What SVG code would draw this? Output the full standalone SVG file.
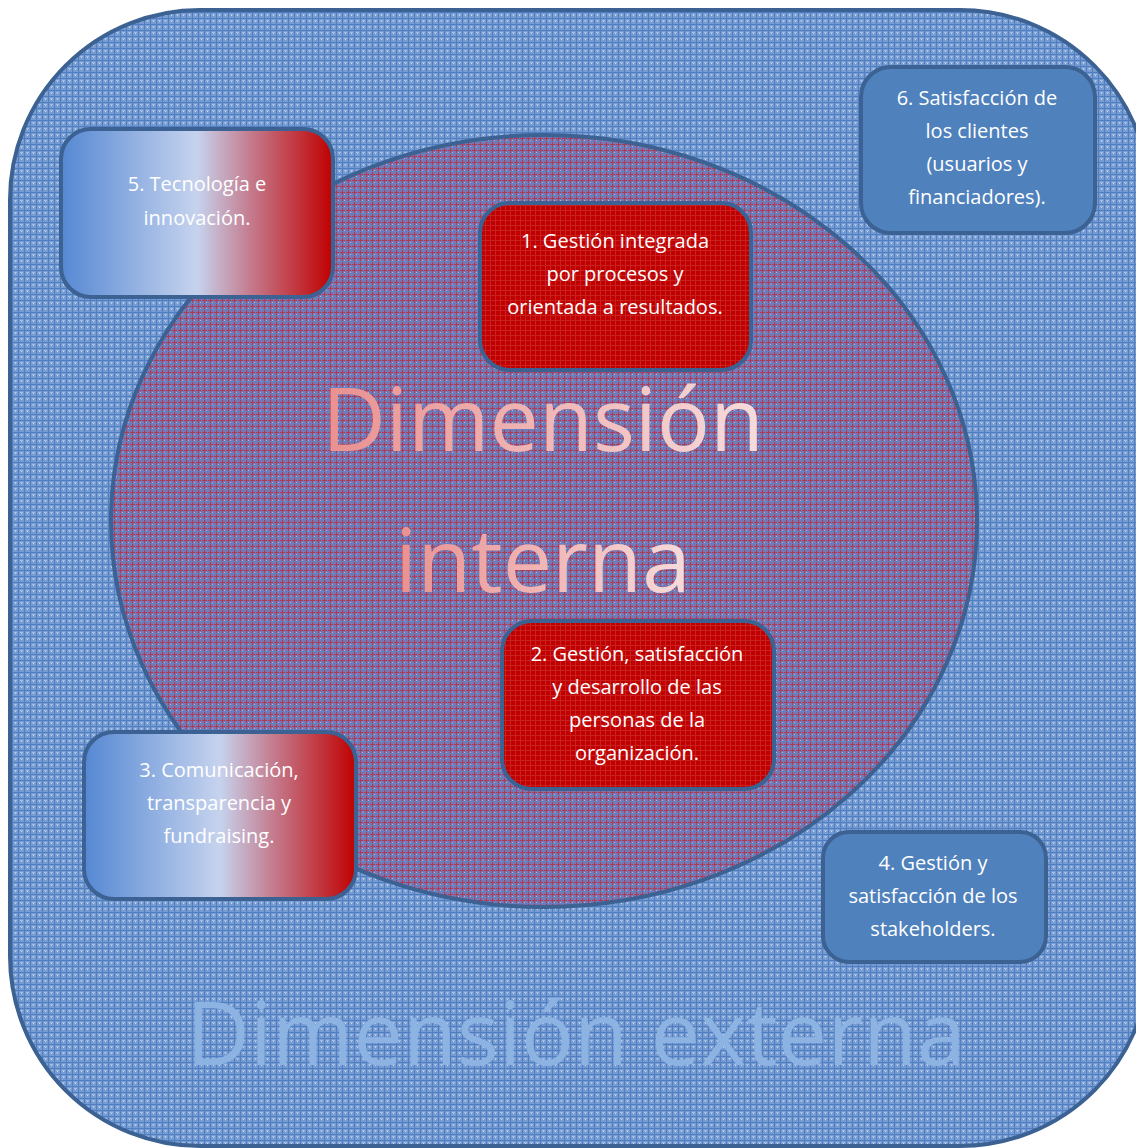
<svg xmlns="http://www.w3.org/2000/svg" width="1136" height="1148" viewBox="0 0 1136 1148">
<defs>
<pattern id="pOuter" width="6" height="6" patternUnits="userSpaceOnUse">
<rect width="6" height="6" fill="#769cd2"/>
<rect x="0" y="0" width="6" height="1" fill="#4f7fc2"/>
<rect x="0" y="0" width="1" height="6" fill="#4f7fc2"/>
<rect x="3" y="3" width="1" height="1" fill="#c4d5ee"/>
<rect x="2" y="2" width="3" height="1" fill="#a0bae1"/>
</pattern>
<pattern id="pInner" width="6" height="6" patternUnits="userSpaceOnUse">
<rect width="6" height="6" fill="#7d76ac"/>
<rect x="0" y="0" width="6" height="1" fill="#b03a58"/>
<rect x="0" y="0" width="1" height="6" fill="#b03a58"/>
<rect x="3" y="0" width="1" height="6" fill="#6580c0"/>
<rect x="0" y="3" width="6" height="1" fill="#6580c0"/>
<rect x="2" y="2" width="1" height="1" fill="#c0b0cc"/>
</pattern>
<pattern id="pRed" width="5" height="5" patternUnits="userSpaceOnUse">
<rect width="5" height="5" fill="#c00000"/>
<rect x="0" y="0" width="5" height="1" fill="#c92020"/>
<rect x="0" y="0" width="1" height="5" fill="#c92020"/>
</pattern>
<linearGradient id="gBR" x1="0" y1="0" x2="1" y2="0">
<stop offset="0" stop-color="#5588d3"/>
<stop offset="0.5" stop-color="#c6d3ee"/>
<stop offset="0.7" stop-color="#c47a8c"/>
<stop offset="1" stop-color="#c00000"/>
</linearGradient>
<linearGradient id="gTxt" x1="0" y1="0" x2="1" y2="0">
<stop offset="0" stop-color="#ea9090"/>
<stop offset="1" stop-color="#f6dcdc"/>
</linearGradient>
<style>
.bx{stroke:#3c6193;stroke-width:4}
.t{font-family:"Open Sans","Noto Sans",sans-serif;font-size:20px;fill:#ffffff;text-anchor:middle}
.big{font-family:"Open Sans","Noto Sans",sans-serif;font-size:88px;text-anchor:middle}
</style>
</defs>
<g id="outer">
<rect x="10" y="10" width="1140" height="1136" rx="190" ry="190" fill="url(#pOuter)" stroke="#3c6193" stroke-width="4"/>
<text class="big" x="576" y="1065" fill="#8db3e2">Dimensión externa</text>
</g>
<g id="inner">
<ellipse cx="544" cy="521" rx="433" ry="386" fill="url(#pInner)" stroke="#3c6193" stroke-width="4"/>
<text class="big" x="543" y="451" fill="url(#gTxt)">Dimensión</text>
<text class="big" x="543" y="592" fill="url(#gTxt)">interna</text>
</g>
<g id="connectors"></g>
<g id="n5">
<rect class="bx" x="61" y="129" width="272" height="168" rx="30" fill="url(#gBR)"/>
<text class="t" x="197" y="191">5. Tecnología e</text>
<text class="t" x="197" y="225">innovación.</text>
</g>
<g id="n1">
<rect class="bx" x="480" y="203" width="271" height="167" rx="30" fill="url(#pRed)"/>
<text class="t" x="615" y="248">1. Gestión integrada</text>
<text class="t" x="615" y="281">por procesos y</text>
<text class="t" x="615" y="314">orientada a resultados.</text>
</g>
<g id="n6">
<rect class="bx" x="861" y="67" width="234" height="166" rx="30" fill="#4f81bd"/>
<text class="t" x="977" y="105">6. Satisfacción de</text>
<text class="t" x="977" y="138">los clientes</text>
<text class="t" x="977" y="171">(usuarios y</text>
<text class="t" x="977" y="204">financiadores).</text>
</g>
<g id="n2">
<rect class="bx" x="502" y="621" width="272" height="168" rx="30" fill="url(#pRed)"/>
<text class="t" x="637" y="661">2. Gestión, satisfacción</text>
<text class="t" x="637" y="694">y desarrollo de las</text>
<text class="t" x="637" y="727">personas de la</text>
<text class="t" x="637" y="760">organización.</text>
</g>
<g id="n3">
<rect class="bx" x="84" y="732" width="272" height="167" rx="30" fill="url(#gBR)"/>
<text class="t" x="219" y="777">3. Comunicación,</text>
<text class="t" x="219" y="810">transparencia y</text>
<text class="t" x="219" y="843">fundraising.</text>
</g>
<g id="n4">
<rect class="bx" x="823" y="832" width="223" height="130" rx="26" fill="#4f81bd"/>
<text class="t" x="933" y="870">4. Gestión y</text>
<text class="t" x="933" y="903">satisfacción de los</text>
<text class="t" x="933" y="936">stakeholders.</text>
</g>
</svg>
